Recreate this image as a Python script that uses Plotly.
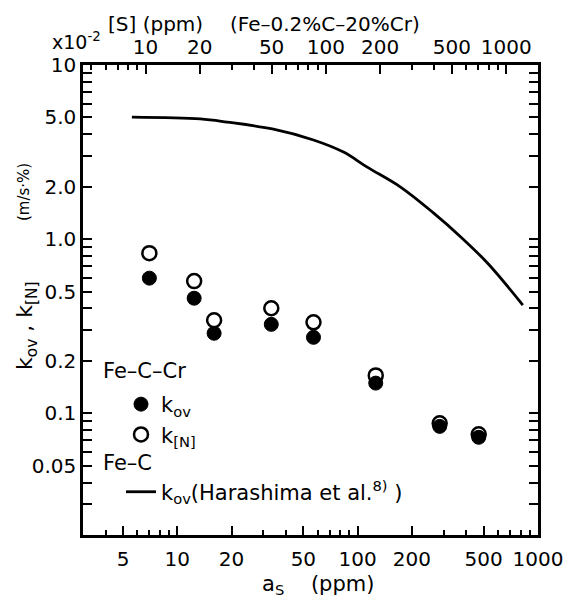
import numpy as np
import plotly.graph_objects as go

# ---- data ----
a_s_pts = [7.0, 12.4, 16.0, 33.2, 56.9, 126, 285, 469]
k_ov_pts = [0.597, 0.458, 0.288, 0.324, 0.273, 0.149, 0.0841, 0.0728]
k_n_pts = [0.831, 0.574, 0.342, 0.401, 0.333, 0.165, 0.0877, 0.0757]

a_s_line = [5.6, 13.4, 18.9, 34.1, 56.9, 83.5, 113, 173, 264, 373, 526, 824]
k_ov_line = [5.02, 4.90, 4.70, 4.28, 3.71, 3.16, 2.59, 1.99, 1.41, 1.03, 0.727, 0.418]

x_ticks = [5, 10, 20, 50, 100, 200, 500, 1000]
x_minor = [4, 6, 7, 8, 9, 30, 40, 60, 70, 80, 90, 300, 400, 600, 700, 800, 900]
top_ticks = [10, 20, 50, 100, 200, 500, 1000]
top_minor = [5, 6, 7, 8, 9, 30, 40, 60, 70, 80, 90, 300, 400, 600, 700, 800, 900]
y_ticks = [0.05, 0.1, 0.2, 0.5, 1, 2, 5, 10]
y_ticktext = ["0.05", "0.1", "0.2", "0.5", "1.0", "2.0", "5.0", "10"]
y_minor = [0.03, 0.04, 0.06, 0.07, 0.08, 0.09, 0.3, 0.4, 0.6, 0.7, 0.8, 0.9,
           3, 4, 6, 7, 8, 9]
S_FACTOR = 1.5  # [S] = 1.5 * a_S

FONT = "DejaVu Sans"
W, H = 582, 599
ML, MR, MT, MB = 83, 44, 65, 64
PW, PH = W - ML - MR, H - MT - MB


def px2paper(px, py):
    return (px - ML) / PW, (H - MB - py) / PH


fig = go.Figure()

fig.add_trace(go.Scatter(
    x=a_s_pts, y=k_n_pts, mode="markers", name="k<sub>[N]</sub>",
    legendgroup="fecr", legendrank=2,
    marker=dict(symbol="circle", size=14, color="white",
                line=dict(color="black", width=2.5)),
))
fig.add_trace(go.Scatter(
    x=a_s_pts, y=k_ov_pts, mode="markers", name="k<sub>ov</sub>",
    legendgroup="fecr", legendrank=1,
    marker=dict(symbol="circle", size=14, color="black",
                line=dict(color="black", width=1)),
))
fig.add_trace(go.Scatter(
    x=a_s_line, y=k_ov_line, mode="lines",
    name="k<sub>ov</sub>(Harashima et al.<sup>8)</sup> )",
    legendgroup="fec", legendrank=3,
    line=dict(color="black", width=2.8, shape="spline"),
))
# empty trace to activate the top [S] axis
fig.add_trace(go.Scatter(x=[], y=[], xaxis="x2", yaxis="y", showlegend=False,
                         hoverinfo="skip"))

axis_common = dict(
    type="log", showgrid=False, zeroline=False, showline=True,
    linecolor="black", linewidth=2.5, ticks="inside", ticklen=9,
    tickwidth=2, tickcolor="black",
    tickfont=dict(family=FONT, size=20, color="black"),
)

lx, ly = px2paper(121, 384)

fig.update_layout(
    width=W, height=H,
    margin=dict(l=ML, r=MR, t=MT, b=MB),
    plot_bgcolor="white", paper_bgcolor="white",
    font=dict(family=FONT, color="black"),
    xaxis=dict(**axis_common, range=[np.log10(3), 3],
               tickmode="array", tickvals=x_ticks,
               ticktext=[str(v) for v in x_ticks],
               minor=dict(ticks="inside", ticklen=5, tickwidth=1.5,
                          tickcolor="black", tickvals=x_minor),
               mirror=False, ticklabelstandoff=4),
    xaxis2=dict(**axis_common, overlaying="x", side="top", anchor="y",
                range=[np.log10(3 * S_FACTOR), np.log10(1000 * S_FACTOR)],
                tickmode="array", tickvals=top_ticks,
                ticktext=[str(v) for v in top_ticks],
                minor=dict(ticks="inside", ticklen=5, tickwidth=1.5,
                           tickcolor="black", tickvals=top_minor)),
    yaxis=dict(**axis_common, range=[np.log10(0.02), 1],
               tickmode="array", tickvals=y_ticks, ticktext=y_ticktext,
               minor=dict(ticks="inside", ticklen=5, tickwidth=1.5,
                          tickcolor="black", tickvals=y_minor),
               mirror="allticks", ticklabelstandoff=0),
    showlegend=True,
    legend=dict(x=lx, y=ly, xanchor="left", yanchor="top",
                bgcolor="rgba(0,0,0,0)", borderwidth=0,
                font=dict(family=FONT, size=21, color="black"),
                tracegroupgap=27, traceorder="grouped", itemwidth=30),
)

ann = [
    dict(text="x10<sup>-2</sup>", x=50, y=41, xanchor="left", font_size=19),
    dict(text="[S] (ppm)", x=106, y=24, xanchor="left", font_size=20),
    dict(text="(Fe–0.2%C–20%Cr)", x=228, y=24, xanchor="left", font_size=20),
    dict(text="Fe–C–Cr", x=101, y=371, xanchor="left", font_size=21),
    dict(text="Fe–C", x=101, y=463, xanchor="left", font_size=21),
    dict(text="a<sub>S</sub>    (ppm)", x=318, y=585, xanchor="center",
         font_size=21),
    dict(text="k<sub>ov</sub> , k<sub>[N]</sub>", x=26, y=326, xanchor="center",
         textangle=-90, font_size=22),
    dict(text="(m/s·%)", x=24, y=192, xanchor="center",
         textangle=-90, font_size=15),
]
for a in ann:
    px, py = a.pop("x"), a.pop("y")
    fs = a.pop("font_size")
    xp, yp = px2paper(px, py)
    fig.add_annotation(
        x=xp, y=yp, xref="paper", yref="paper", yanchor="middle",
        showarrow=False, font=dict(family=FONT, size=fs, color="black"), **a
    )

fig.write_html("out.html")
